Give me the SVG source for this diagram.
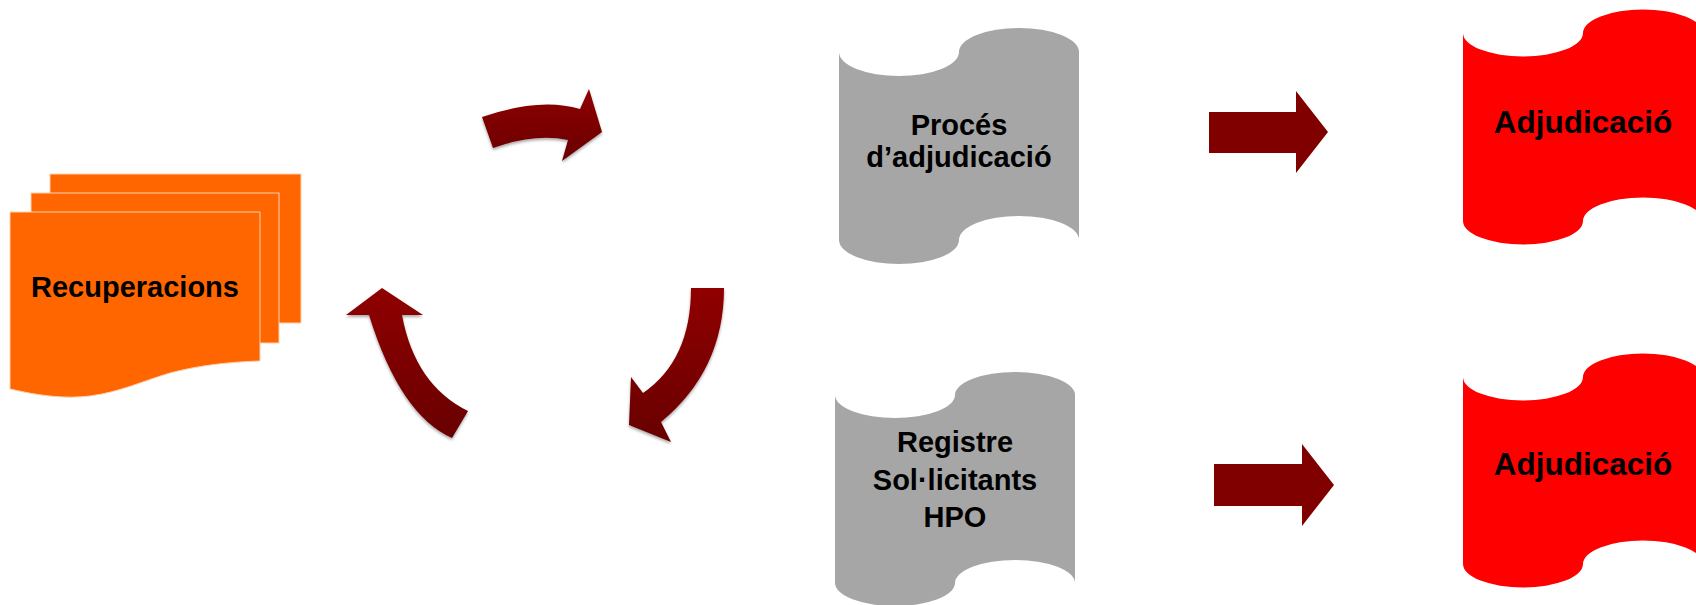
<svg xmlns="http://www.w3.org/2000/svg" width="1696" height="605" viewBox="0 0 1696 605">
  <style>
    .lbl { font-family: "Liberation Sans", Arial, sans-serif; font-weight: bold; fill: #000; text-anchor: middle; }
    .s29 { font-size: 29px; }
    .s31 { font-size: 31.5px; }
    .orange { fill: #FF6600; }
    .orange-edge { fill: #FF6600; stroke: #FFD0B0; stroke-width: 1; }
    .gray { fill: #A6A6A6; }
    .red { fill: #FF0000; }
    .flow { fill: #800000; }
    .cyc { fill: url(#cycGrad); filter: url(#shadow); }
  </style>
  <defs>
    <linearGradient id="cycGrad" x1="0" y1="0" x2="0" y2="1">
      <stop offset="0" stop-color="#900000"/>
      <stop offset="1" stop-color="#680000"/>
    </linearGradient>
    <filter id="shadow" x="-20%" y="-20%" width="140%" height="140%">
      <feGaussianBlur in="SourceAlpha" stdDeviation="1.5"/>
      <feOffset dx="0" dy="1.5" result="b"/>
      <feComponentTransfer><feFuncA type="linear" slope="0.35"/></feComponentTransfer>
      <feMerge><feMergeNode/><feMergeNode in="SourceGraphic"/></feMerge>
    </filter>
  </defs>

  <rect width="1696" height="605" fill="#FFFFFF"/>

  <g id="recuperacions">
    <rect class="orange-edge" x="50" y="174" width="251" height="149"/>
    <rect class="orange-edge" x="31" y="193" width="248" height="150"/>
    <path class="orange-edge" d="M10,212 H260 V361 C230,362 200,365 170,373 C140,382 120,392 90,396 C65,399 40,396 10,389 Z"/>
    <text class="lbl s29" x="135" y="297">Recuperacions</text>
  </g>

  <g id="proces-adjudicacio">
    <path class="gray" d="M839,52 A60,24 0 0 0 959,52 A60,24 0 0 1 1079,52 V240 A60,24 0 0 0 959,240 A60,24 0 0 1 839,240 Z"/>
    <text class="lbl s29" x="959" y="135">Procés</text>
    <text class="lbl s29" x="959" y="167">d’adjudicació</text>
  </g>

  <g id="registre-sollicitants">
    <path class="gray" d="M835,395 A60,23 0 0 0 955,395 A60,23 0 0 1 1075,395 V583 A60,23 0 0 0 955,583 A60,23 0 0 1 835,583 Z"/>
    <text class="lbl s29" x="955" y="452">Registre</text>
    <text class="lbl s29" x="955" y="490">Sol·licitants</text>
    <text class="lbl s29" x="955" y="527">HPO</text>
  </g>

  <g id="adjudicacio-1">
    <path class="red" d="M1463,33 A60,23.5 0 0 0 1583,33 A60,23.5 0 0 1 1703,33 V221 A60,23.5 0 0 0 1583,221 A60,23.5 0 0 1 1463,221 Z"/>
    <text class="lbl s31" x="1583" y="133">Adjudicació</text>
  </g>

  <g id="adjudicacio-2">
    <path class="red" d="M1463,377 A60,23.5 0 0 0 1583,377 A60,23.5 0 0 1 1703,377 V564 A60,23.5 0 0 0 1583,564 A60,23.5 0 0 1 1463,564 Z"/>
    <text class="lbl s31" x="1583" y="475">Adjudicació</text>
  </g>

  <g id="connectors">
    <!-- cycle arrows -->
    <path class="cyc" d="M482,117 Q540,97 580,109 L589,89 L602,132 L562,161 L568,140 Q535,133 493,148 Z"/>
    <path class="cyc" d="M691,288 H724 Q724,370 661,422 L671,442 L629,425 L631,377 L643,393 Q691,360 691,288 Z"/>
    <path class="cyc" d="M468,411 L452,438 Q400,415 369,315 L346,315 L382,288 L423,315 L402,315 Q415,385 468,411 Z"/>
    <!-- straight arrows -->
    <path class="flow" d="M1209,112 H1296 V91 L1328,132 L1296,173 V153 H1209 Z"/>
    <path class="flow" d="M1214,464 H1302 V444 L1334,485 L1302,526 V506 H1214 Z"/>
  </g>
</svg>
